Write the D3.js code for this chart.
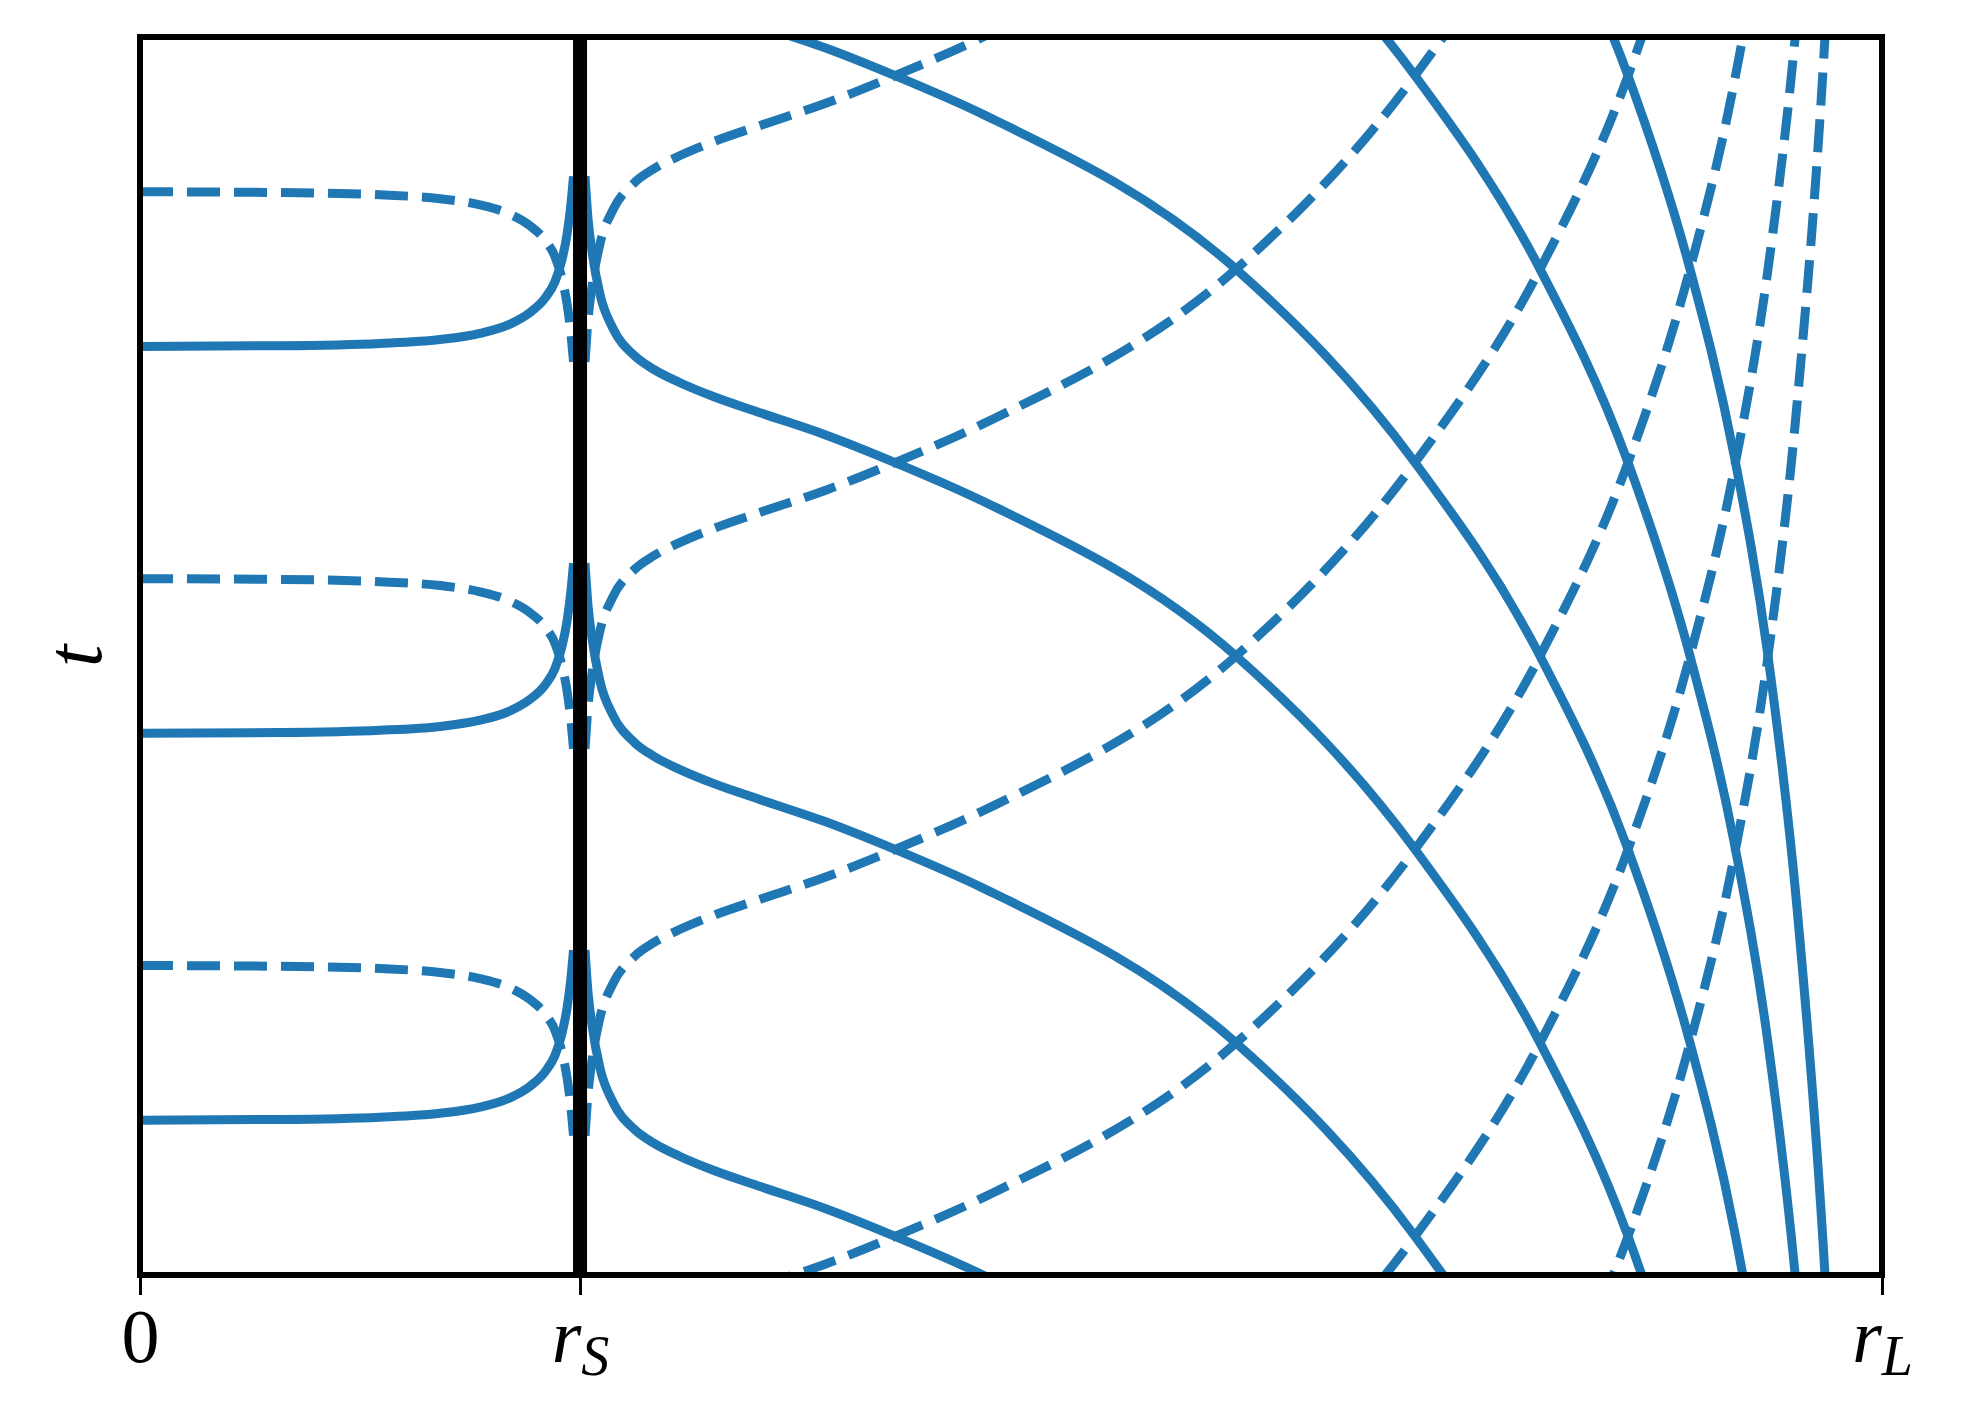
<!DOCTYPE html>
<html>
<head>
<meta charset="utf-8">
<script src="https://cdn.jsdelivr.net/npm/d3@7"></script>
<style>
  body { margin: 0; background: #fff; }
  svg { display: block; }
</style>
</head>
<body>
<div id="chart"></div>
<script>
// light rays in tortoise coordinates: r in units of r_L, t in units of the ray spacing

const rS = 0.2526;
const rL = 1;

const rInside = [0, 0.08038, 0.13779, 0.17223, 0.19519, 0.21242, 0.2239, 0.23251, 0.23825, 0.24227,
    0.24514, 0.24743, 0.24887];
const tInside = [0, 0.002, 0.008, 0.018, 0.034, 0.058, 0.088, 0.125, 0.168, 0.225,
    0.29, 0.37, 0.44];

// rS < r < rL
const rOutside = [0.25547, 0.25719, 0.25949, 0.26414, 0.2716, 0.28394, 0.29491, 0.30972, 0.32952, 0.3565,
    0.39324, 0.43343, 0.48393, 0.62916, 0.73192, 0.80367, 0.85419, 0.88978, 0.91504, 0.93456,
    0.9512, 0.96728, 0.97589];
const tOutside = [-0.74, -0.63, -0.545, -0.433, -0.346, -0.276, -0.241, -0.207, -0.17, -0.128,
    -0.072, 0, 0.1, 0.5, 1.0, 1.5, 2.0, 2.5, 2.98, 3.5,
    4.15, 5.1, 5.85];

// starting levels of each ray
const solidInside = [0.4, 1.4, 2.4];
const dashedInside = [0.8, 1.8, 2.8];
const solidOutside = [0.1, 1.1, 2.1, 3.1, 4.1, 5.1];
const dashedOutside = [-1.9, -0.9, 0.1, 1.1, 2.1, 3.1];

const tRange = [0, 3.2];
const xTicks = [0, rS, rL];
const xTickLabels = [['0', ''], ['r', 'S'], ['r', 'L']];

const width = 1963, height = 1426;
const plot = { left: 140, right: 1882, top: 37, bottom: 1275 };

const x = d3.scaleLinear().domain([0, rL]).range([plot.left, plot.right]);
const y = d3.scaleLinear().domain(tRange).range([plot.bottom, plot.top]);

const svg = d3.select('#chart').append('svg')
    .attr('width', width)
    .attr('height', height)
    .style('background', '#fff');

svg.append('clipPath').attr('id', 'plot-clip')
    .append('rect')
    .attr('x', plot.left).attr('y', plot.top)
    .attr('width', plot.right - plot.left)
    .attr('height', plot.bottom - plot.top);

// build every ray from the two profiles
const rays = [];
solidInside.forEach(c => rays.push({ dashed: false, pts: rInside.map((r, i) => [r, c + tInside[i]]) }));
dashedInside.forEach(c => rays.push({ dashed: true, pts: rInside.map((r, i) => [r, c - tInside[i]]) }));
solidOutside.forEach(c => rays.push({ dashed: false, pts: rOutside.map((r, i) => [r, c - tOutside[i]]) }));
dashedOutside.forEach(c => rays.push({ dashed: true, pts: rOutside.map((r, i) => [r, c + tOutside[i]]) }));

const line = d3.line()
    .x(d => x(d[0]))
    .y(d => y(d[1]))
    .curve(d3.curveMonotoneX);

svg.append('g')
    .attr('clip-path', 'url(#plot-clip)')
    .selectAll('path')
    .data(rays)
    .enter().append('path')
    .attr('d', d => line(d.pts))
    .attr('fill', 'none')
    .attr('stroke', '#1f77b4')
    .attr('stroke-width', 9)
    .attr('stroke-dasharray', d => d.dashed ? '33,14' : null);

// horizon
svg.append('line')
    .attr('x1', x(rS)).attr('x2', x(rS))
    .attr('y1', y(tRange[0])).attr('y2', y(tRange[1]))
    .attr('stroke', '#000')
    .attr('stroke-width', 14);

// frame
svg.append('rect')
    .attr('x', plot.left).attr('y', plot.top)
    .attr('width', plot.right - plot.left)
    .attr('height', plot.bottom - plot.top)
    .attr('fill', 'none')
    .attr('stroke', '#000')
    .attr('stroke-width', 6);

const xAxis = d3.axisBottom(x)
    .tickValues(xTicks)
    .tickSizeInner(20)
    .tickSizeOuter(0)
    .tickFormat('');

const gx = svg.append('g')
    .attr('transform', `translate(0,${plot.bottom})`)
    .call(xAxis);

gx.select('.domain').remove();
gx.selectAll('.tick line').attr('stroke', '#000').attr('stroke-width', 3);

gx.selectAll('.tick text')
    .attr('y', 87)
    .attr('dy', null)
    .attr('fill', '#000')
    .style('font-family', '"Liberation Serif", "DejaVu Serif", serif')
    .style('font-size', '76px')
    .each(function(d, i) {
        const [main, sub] = xTickLabels[i];
        const txt = d3.select(this);
        txt.text(null);
        txt.append('tspan')
            .style('font-style', main === '0' ? 'normal' : 'italic')
            .text(main);
        if (sub) {
            txt.append('tspan')
                .attr('dy', 13)
                .style('font-style', 'italic')
                .style('font-size', '56px')
                .text(sub);
        }
    });

svg.append('text')
    .attr('transform', `translate(101,${(plot.top + plot.bottom) / 2}) rotate(-90)`)
    .attr('text-anchor', 'middle')
    .style('font-family', '"Liberation Serif", "DejaVu Serif", serif')
    .style('font-style', 'italic')
    .style('font-size', '80px')
    .text('t');
</script>
</body>
</html>
